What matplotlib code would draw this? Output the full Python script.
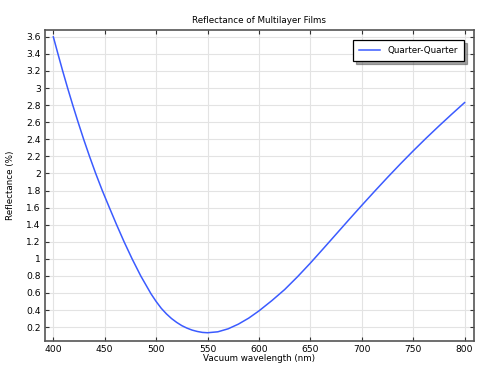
import matplotlib
matplotlib.use("Agg")
import matplotlib.pyplot as plt
from matplotlib.ticker import FuncFormatter

# wavelength (nm) and reflectance (%)
wavelength = [400, 404.5, 409.1, 413.9, 418.9, 424.1, 429.5, 435.2, 441.2, 447.6,
              454.5, 461.5, 468.8, 476.6, 485, 490, 495, 500, 505, 510, 515, 520,
              525, 530, 535, 540, 545, 550, 560, 570, 580, 590, 600, 612.5, 625,
              637.5, 650, 662.5, 675, 687.5, 700, 712.5, 725, 737.5, 750, 762.5,
              775, 787.5, 800]
reflectance = [3.60, 3.40, 3.20, 3.00, 2.80, 2.60, 2.40, 2.20, 2.00, 1.80,
               1.60, 1.40, 1.20, 1.00, 0.80, 0.695, 0.59, 0.50, 0.42, 0.355, 0.30, 0.255,
               0.217, 0.188, 0.165, 0.149, 0.138, 0.134, 0.145, 0.18, 0.235, 0.305, 0.39,
               0.51, 0.64, 0.79, 0.95, 1.118, 1.288, 1.458, 1.626, 1.791, 1.953, 2.111,
               2.264, 2.412, 2.555, 2.694, 2.83]
xticks = list(range(400, 801, 50))
yticks = [round(0.2 * i, 1) for i in range(1, 19)]

fs = 6.3

fig = plt.figure(figsize=(4.85, 3.66), dpi=100)
ax = fig.add_axes([0.093, 0.068, 0.884, 0.85])

ax.plot(wavelength, reflectance, color="#3b5bff", lw=1.1, label="Quarter-Quarter")

ax.set_xlim(392, 809)
ax.set_ylim(0.036, 3.68)
ax.set_xticks(xticks)
ax.set_yticks(yticks)
ax.yaxis.set_major_formatter(FuncFormatter(lambda v, p: ("%g" % round(v, 1))))
ax.grid(True, color="#e3e3e3", lw=0.8)
ax.set_axisbelow(True)
ax.tick_params(direction="in", length=3, width=0.8, labelsize=6.6, colors="#333333",
               top=True, right=True, pad=3)
ax.tick_params(labelcolor="black")
for s in ax.spines.values():
    s.set_color("#555555")
    s.set_linewidth(1.2)

ax.set_title("Reflectance of Multilayer Films", fontsize=fs, pad=5)
ax.set_xlabel("Vacuum wavelength (nm)", fontsize=fs, labelpad=0)
ax.set_ylabel("Reflectance (%)", fontsize=fs, labelpad=8)

leg = ax.legend(loc="upper right", fontsize=fs, fancybox=False, shadow=True,
                framealpha=1, edgecolor="black", borderpad=0.7, handlelength=2.4,
                borderaxespad=0, bbox_to_anchor=(0.977, 0.968))
leg.get_frame().set_linewidth(0.9)

fig.savefig("out.png", dpi=100)
